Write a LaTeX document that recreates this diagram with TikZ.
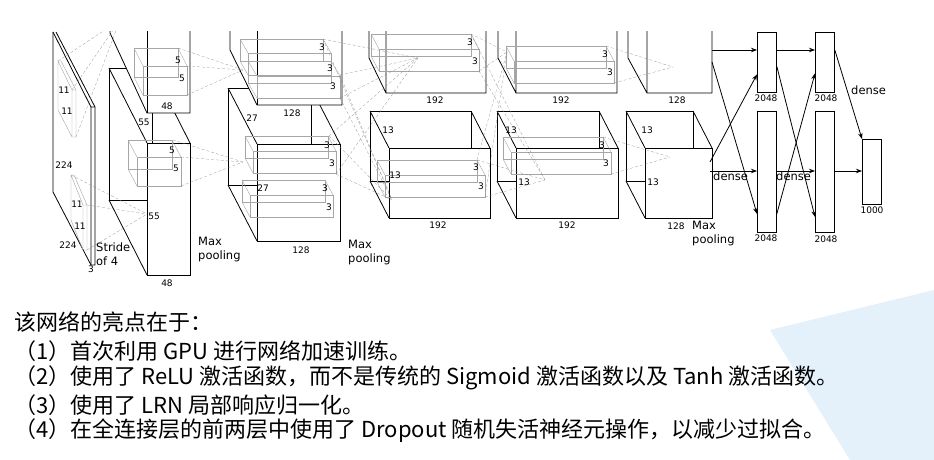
\documentclass[tikz,border=0pt]{standalone}
\usepackage{fontspec}
\setmainfont{DejaVu Sans}
\newfontfamily\cjk{Noto Sans CJK SC}
\usetikzlibrary{arrows.meta, positioning}
\definecolor{wmark}{RGB}{228,240,250}
\tikzset{
    x=1pt, y=-1pt,
    layer/.style={thick, black, fill=white}, % outline of a feature map
    kernel/.style={gray!70, thin},           % small kernel boxes
    proj/.style={gray, densely dashed, very thin},
    num/.style={font=\fontsize{9}{10}\selectfont, inner sep=0pt},
    lbl/.style={font=\fontsize{11.5}{13.5}\selectfont, align=left, inner sep=0pt, anchor=north west},
    fc/.style={draw, thick, minimum width=19pt, inner sep=0pt, anchor=north west},
    link/.style={thick, -{Stealth[length=6pt]}},
    note/.style={font=\cjk\fontsize{22}{24}\selectfont, anchor=west, inner sep=0pt}
}
% box: back face corner, width, height, depth offset
\newcommand{\boxy}[6][layer]{%
  \draw[#1] (#2,#3) rectangle ++(#4,#5);
  \draw[#1] (#2,#3) ++(#6) rectangle ++(#4,#5);
  \draw[#1] (#2,#3) -- ++(#6) (#2+#4,#3) -- ++(#6) (#2,#3+#5) -- ++(#6);
}
\begin{document}
\begin{tikzpicture}
\useasboundingbox (0,0) rectangle (934,460);
\fill[wmark] (770,330) -- (934,290) -- (934,460) -- (850,460) -- cycle;

\begin{scope}
\clip (0,32) rectangle (934,300);
% input image
\draw[layer] (53,32) -- (53,192) -- (91,265) -- (95,265) -- (95,107) -- (56,32);
\draw[layer] (91,107) -- (95,107) (91,107) -- (91,265) (53,32) -- (91,107);
\draw[kernel] (58,61) -- (58,110) -- (72,137) -- (76,137) -- (76,90) -- (61,61) -- cycle (58,61) -- (72,90) -- (72,137) (72,90) -- (76,90);
\draw[kernel] (71,175) -- (71,220) -- (83,250) -- (87,250) -- (87,205) -- (74,175) -- cycle (71,175) -- (83,205) -- (83,250) (83,205) -- (87,205);
% conv1, two streams
\boxy{109}{68}{43}{132}{38,75}
\draw[layer] (110,33) -- (147,113) -- (190,113) -- (190,-10) -- (110,-10) -- cycle;
\draw[layer] (147,-10) -- (147,113);
\boxy[kernel]{134}{48}{44}{29}{9,18}
\boxy[kernel]{128}{140}{44}{29}{9,17}
% conv2
\boxy{228}{88}{83}{97}{29,56}
\draw[layer] (230,-10) -- (230,50) -- (257,105) -- (342,105) -- (342,-10);
\draw[layer] (257,-10) -- (257,105);
\boxy[kernel]{240}{39}{83}{22}{8,14}
\boxy[kernel]{248}{61}{83}{22}{9,15}
\boxy[kernel]{245}{136}{83}{22}{8,15}
\boxy[kernel]{242}{180}{83}{22}{8,15}
% conv3
\draw[layer] (369,-10) -- (369,58) -- (386,93) -- (486,93) -- (486,-10) (386,-10) -- (386,93);
\boxy[kernel]{371}{34}{100}{22}{8,15}
\boxy{370}{111}{101}{70}{19,37}
\boxy[kernel]{377}{160}{100}{22}{8,15}
% conv4
\draw[layer] (498,-10) -- (498,58) -- (516,93) -- (617,93) -- (617,-10) (516,-10) -- (516,93);
\boxy[kernel]{506}{46}{100}{22}{8,15}
\boxy{497}{111}{102}{70}{19,37}
\boxy[kernel]{503}{137}{100}{22}{8,15}
% conv5
\draw[layer] (628,-10) -- (628,58) -- (647,93) -- (712,93) -- (712,-10) (647,-10) -- (647,93);
\boxy{626}{111}{67}{70}{19,37}
% projections
\foreach \a/\b in {58/61,72/90,76/137}{\draw[proj] (\a,\b) -- (120,20);}
\foreach \a/\b in {71/175,87/205,87/250}{\draw[proj] (\a,\b) -- (147,214);}
\foreach \a/\b in {178/48,187/66,187/95}{\draw[proj] (\a,\b) -- (243,70);}
\foreach \a/\b in {173/140,181/157,181/186}{\draw[proj] (\a,\b) -- (243,162);}
\foreach \a/\b in {323/39,340/75,340/98,329/136,336/174}{\draw[proj] (\a,\b) -- (418,58); \draw[proj] (\a,\b) -- (392,200);}
\foreach \a/\b in {471/34,479/71,477/160,485/197}{\draw[proj] (\a,\b) -- (507,52); \draw[proj] (\a,\b) -- (545,180);}
\foreach \a/\b in {606/46,614/83}{\draw[proj] (\a,\b) -- (673,67);}
\foreach \a/\b in {603/137,611/174}{\draw[proj] (\a,\b) -- (670,157);}
% dense layers
\node[fc, minimum height=60pt] (fcA) at (757,32) {};
\node[fc, minimum height=60pt] (fcB) at (815,32) {};
\node[fc, minimum height=121pt] (fcC) at (757,111) {};
\node[fc, minimum height=121pt] (fcD) at (815,111) {};
\node[fc, minimum height=65pt] (out) at (862,139) {};
\coordinate (t5) at (712,50); \coordinate (t5b) at (712,62);
\coordinate (b5) at (710,162); \coordinate (b5b) at (710,171);
\draw[link] (t5) -- (t5 -| fcA.west);
\draw[link] (t5b) -- ([yshift=-42pt]fcC.west);
\draw[link] (b5) -- ([yshift=-12pt]fcA.west);
\draw[link] (b5b) -- (b5b -| fcC.west);
\draw[link] (fcA.east |- t5) -- (fcB.west |- t5);
\draw[link] ([yshift=-4pt]fcA.east) -- ([yshift=-45pt]fcD.west);
\draw[link] ([yshift=-42pt]fcC.east) -- ([yshift=-11pt]fcB.west);
\draw[link] (fcC.east |- b5b) -- (fcD.west |- b5b);
\draw[link] (fcB.east |- t5) -- (out.north west);
\draw[link] (fcD.east |- b5b) -- (out.west |- b5b);
\end{scope}

% numbers
\foreach \x/\y/\t in {64/90/11, 67/111/11, 64/165/224, 77/204/11, 80/226/11, 68/245/224, 91/269/3,
  178/60/5, 182/78/5, 167/106/48, 144/122/55, 172/150/5, 176/168/5, 154/216/55, 167/283/48,
  322/47/3, 330/68/3, 333/86/3, 292/113/128, 252/118/27, 327/145/3, 332/163/3, 263/188/27,
  325/188/3, 329/207/3, 301/250/128,
  470/42/3, 475/61/3, 435/100/192, 388/130/13, 395/175/13, 476/167/3, 481/186/3, 438/225/192,
  605/54/3, 610/72/3, 561/100/192, 511/130/13, 602/145/3, 606/163/3, 524/182/13, 567/225/192,
  677/100/128, 647/130/13, 653/182/13, 676/226/128,
  766/98/2048, 826/98/2048, 766/238/2048, 826/239/2048, 872/210/1000}
  {\node[num] at (\x,\y) {\t};}
\node[lbl] (strd) at (96,243) {Stride\\of 4};
\node[lbl] (mp1) at (198,237) {Max\\pooling};
\node[lbl] (mp2) at (348,240) {Max\\pooling};
\node[lbl] (mp3) at (692,221) {Max\\pooling};
\node[lbl] (dn1) at (713,172) {dense};
\node[lbl] (dn2) at (776,172) {dense};
\node[lbl] (dn3) at (851,86) {dense};

% notes
\node[note] (n0) at (14,322) {该网络的亮点在于：};
\node[note] (n1) at (14,351) {（1）首次利用 GPU 进行网络加速训练。};
\node[note] (n2) at (14,378) {（2）使用了 ReLU 激活函数，而不是传统的 Sigmoid 激活函数以及 Tanh 激活函数。};
\node[note] (n3) at (14,405) {（3）使用了 LRN 局部响应归一化。};
\node[note] (n4) at (14,431) {（4）在全连接层的前两层中使用了 Dropout 随机失活神经元操作，以减少过拟合。};
\end{tikzpicture}
\end{document}
